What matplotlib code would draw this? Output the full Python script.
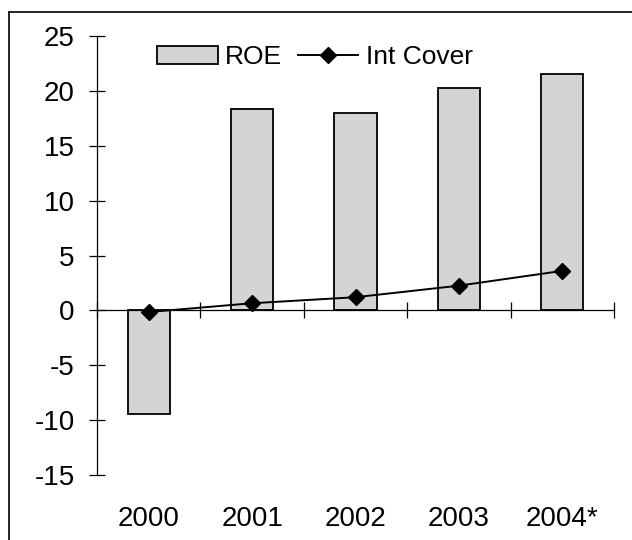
import matplotlib
matplotlib.use("Agg")
import matplotlib.pyplot as plt
from matplotlib.lines import Line2D

plt.rcParams['font.family'] = ['Liberation Sans', 'DejaVu Sans']
plt.rcParams['axes.unicode_minus'] = False

# data
years = ["2000", "2001", "2002", "2003", "2004*"]
roe = [-9.4, 18.35, 17.95, 20.3, 21.5]
int_cover = [-0.15, 0.65, 1.2, 2.25, 3.6]

fig = plt.figure(figsize=(6.32, 5.4), dpi=100)
ax = fig.add_axes([97 / 632, 1 - 475 / 540, (614 - 97) / 632, (475 - 36) / 540])

x = range(len(years))
bars = ax.bar(x, roe, width=0.41, color="#d4d4d4", edgecolor="black", linewidth=1.3,
              label="ROE", zorder=2)
line, = ax.plot(x, int_cover, color="black", linewidth=1.4, marker="D", markersize=8,
                label="Int Cover", zorder=3)

ax.set_xlim(-0.5, len(years) - 0.5)
ax.set_ylim(-15, 25)
ax.set_yticks(range(-15, 26, 5))

# spines: left axis and a zero line with category-boundary ticks
for s in ["top", "right"]:
    ax.spines[s].set_visible(False)
ax.spines["left"].set_linewidth(0.9)
ax.spines["bottom"].set_position(("data", 0))
ax.spines["bottom"].set_linewidth(0.9)
ax.set_xticks([i + 0.5 for i in range(-1, len(years))])
ax.set_xticklabels([])
ax.tick_params(axis="x", direction="inout", length=12, width=0.9)
ax.tick_params(axis="y", direction="inout", length=12, width=0.9, labelsize=20, pad=10)

# year labels along the bottom
sec = ax.secondary_xaxis(0)
sec.set_xticks(list(x))
sec.set_xticklabels(years)
sec.spines["bottom"].set_visible(False)
sec.tick_params(length=0, labelsize=20, pad=22)

fig.legend([bars, line], ["ROE", "Int Cover"], loc="center",
           bbox_to_anchor=(0.498, 0.894), ncol=2, frameon=False,
           fontsize=19, handlelength=2.3, handletextpad=0.27, columnspacing=0.6)

# border on the left and top of the figure
fig.add_artist(Line2D([9 / 632, 9 / 632], [0, 1 - 12 / 540], color="black", linewidth=1.2))
fig.add_artist(Line2D([9 / 632, 1], [1 - 12 / 540, 1 - 12 / 540], color="black", linewidth=1.2))

fig.savefig("out.png", dpi=100)
